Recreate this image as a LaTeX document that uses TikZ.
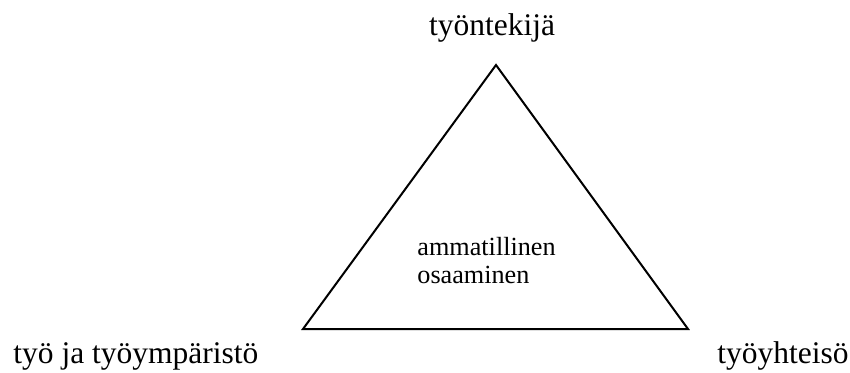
\documentclass[tikz,border=0pt]{standalone}
\usepackage{fontspec}
\setmainfont{Liberation Serif}
\usepackage{tikz}

\begin{document}
\begin{tikzpicture}[x=0.5pt,y=0.5pt,
    lbl/.style={inner sep=0pt,font=\fontsize{15.75}{18}\selectfont},
    mid/.style={inner sep=0pt,align=left,font=\fontsize{13.1}{14}\selectfont}]
  \useasboundingbox (0,0) rectangle (850,372);
  % corners of the triangle
  \coordinate (top) at (496,307);
  \coordinate (left) at (303,43);
  \coordinate (right) at (688,43);
  \draw[line width=1pt] (top)--(left)--(right)--cycle;
  \node[lbl,anchor=base] (tekija) at (492,337) {työntekijä};
  \node[lbl,anchor=base west] (ymparisto) at (13,9) {työ ja työympäristö};
  \node[lbl,anchor=base west] (yhteiso) at (717,9) {työyhteisö};
  % base anchor sits on the last line
  \node[mid,anchor=base west] (osaaminen) at (417,89)
    {ammatillinen\\osaaminen};
\end{tikzpicture}
\end{document}
